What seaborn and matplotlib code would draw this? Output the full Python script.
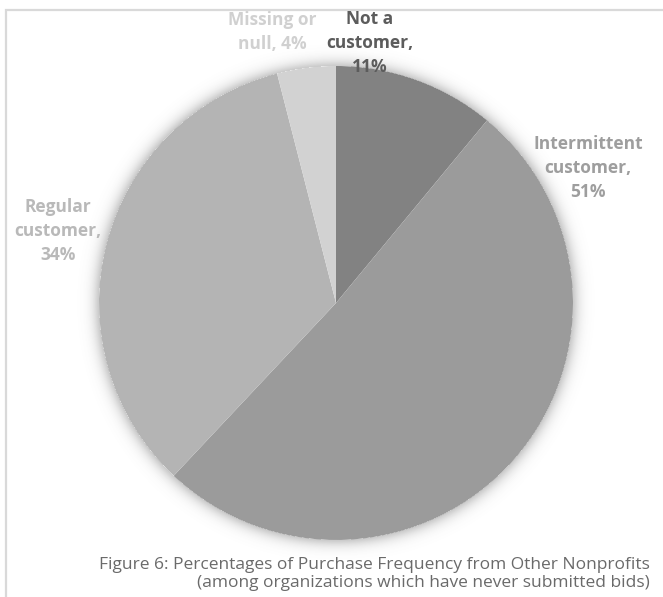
import numpy as np
import matplotlib
matplotlib.use("Agg")
import matplotlib.pyplot as plt
import seaborn as sns

# Purchase frequency from other nonprofits (share of organizations, %)
categories = ["Not a customer", "Intermittent customer", "Regular customer", "Missing or null"]
shares = [11, 51, 34, 4]
label_heads = ["Not a\ncustomer,\n", "Intermittent\ncustomer,\n", "Regular\ncustomer,\n", "Missing or\nnull, "]
slice_colors = ["#828282", "#9b9b9b", "#b4b4b4", "#d2d2d2"]
label_colors = ["#5c5c5c", "#9e9e9e", "#b9b9b9", "#d0d0d0"]
caption_lines = [
    "Figure 6: Percentages of Purchase Frequency from Other Nonprofits",
    "(among organizations which have never submitted bids)",
]

sns.set_theme(style="white")
plt.rcParams["font.family"] = ["Open Sans", "DejaVu Sans"]

W, H = 663, 597
fig = plt.figure(figsize=(W / 100, H / 100), dpi=100)
ax = fig.add_axes([0, 0, 1, 1])

# pie geometry in pixel units (y measured from the top)
cx, cy, r = 336, 303, 237

palette = sns.color_palette(slice_colors)
ax.pie(shares, colors=palette, startangle=90, counterclock=False,
       center=(cx, H - cy), radius=r, wedgeprops=dict(linewidth=0))

# soft outer shadow around the pie
yy, xx = np.mgrid[0:H, 0:W] + 0.5
d = np.hypot(xx - cx, yy - cy) - r
alpha = np.where(d > 0, 0.32 * np.exp(-(d / 7.0) ** 1.3), 0.0)
shadow = np.zeros((H, W, 4))
shadow[..., :3] = 0.35
shadow[..., 3] = alpha
ax.imshow(shadow, extent=(0, W, 0, H), origin="upper", zorder=0.5, interpolation="bilinear")

# light frame on the left and top
ax.plot([6, 6, W + 5], [-5, H - 10, H - 10], color="#d9d9d9", lw=1.6,
        solid_joinstyle="miter", zorder=1)

# data labels (x, y of the block centre, from the top)
label_pos = [(370, 43), (588, 168), (58, 231), (272, 32)]
for head, v, col, (lx, ly) in zip(label_heads, shares, label_colors, label_pos):
    ax.text(lx, H - ly, f"{head}{v}%", ha="center", va="center", color=col,
            fontsize=12.5, fontweight="bold", linespacing=1.42, zorder=3)

# caption, right aligned
ax.text(650, H - 565, caption_lines[0], ha="right", va="center",
        color="#6a6a6a", fontsize=12.5, zorder=3)
ax.text(650, H - 583, caption_lines[1], ha="right", va="center",
        color="#6a6a6a", fontsize=12.5, zorder=3)

ax.set_xlim(0, W)
ax.set_ylim(0, H)
ax.set_aspect("auto")
ax.axis("off")

fig.savefig("out.png", dpi=100, facecolor="white")
